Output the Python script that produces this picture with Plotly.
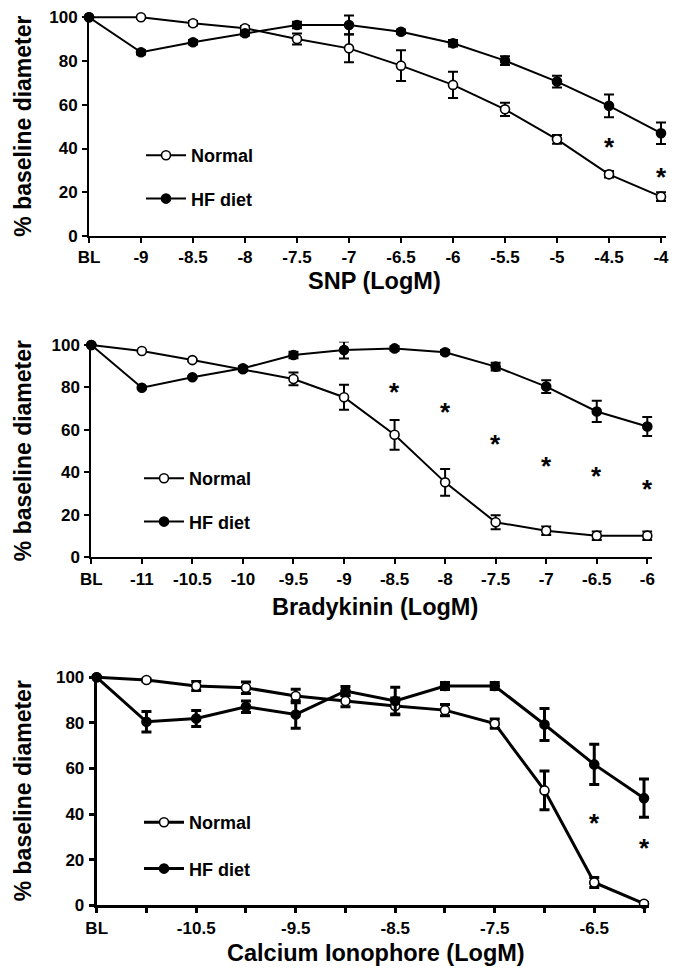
import plotly.graph_objects as go

W, H = 678, 969
FONT = "Liberation Sans, Arial, Helvetica, sans-serif"

# ---------------- data ----------------
snp_labels = ["BL", "-9", "-8.5", "-8", "-7.5", "-7", "-6.5", "-6", "-5.5", "-5", "-4.5", "-4"]
snp_ticktext = snp_labels
snp_normal = [100, 100, 97.3, 95.0, 90.1, 85.8, 77.9, 69.1, 57.9, 44.2, 28.2, 18.0]
snp_normal_err = [0, 0.5, 1.0, 1.0, 2.5, 6.3, 7.0, 6.0, 3.0, 2.0, 1.5, 2.0]
snp_hf = [100, 84.0, 88.6, 92.7, 96.5, 96.5, 93.4, 88.1, 80.2, 70.6, 59.5, 47.0]
snp_hf_err = [0, 1.0, 1.0, 1.0, 1.5, 4.3, 1.0, 1.5, 2.0, 2.7, 5.2, 4.9]
snp_star_x = ["-4.5", "-4"]
snp_star_y = [43.1, 29.4]

bk_labels = ["BL", "-11", "-10.5", "-10", "-9.5", "-9", "-8.5", "-8", "-7.5", "-7", "-6.5", "-6"]
bk_ticktext = bk_labels
bk_normal = [100, 97.2, 92.9, 88.6, 84.0, 75.4, 57.7, 35.3, 16.5, 12.5, 10.2, 10.2]
bk_normal_err = [0, 0.5, 0.5, 1.0, 3.0, 5.9, 7.0, 6.3, 3.3, 2.0, 2.0, 2.0]
bk_hf = [100, 79.9, 84.8, 89.0, 95.3, 97.6, 98.4, 96.6, 89.8, 80.4, 68.7, 61.6]
bk_hf_err = [0, 0.5, 0.5, 1.0, 1.5, 4.0, 1.0, 1.0, 1.8, 3.0, 5.0, 4.5]
bk_star_x = ["-8.5", "-8", "-7.5", "-7", "-6.5", "-6"]
bk_star_y = [80.1, 70.7, 55.6, 45.5, 40.8, 34.5]

ci_labels = ["BL", "-11", "-10.5", "-10", "-9.5", "-9", "-8.5", "-8", "-7.5", "-7", "-6.5", "-6"]
ci_ticktext = ["BL", "", "-10.5", "", "-9.5", "", "-8.5", "", "-7.5", "", "-6.5", ""]
ci_normal = [100, 98.8, 96.2, 95.4, 91.8, 89.6, 87.4, 85.6, 79.7, 50.4, 10.0, 0.7]
ci_normal_err = [0, 0.5, 2.0, 2.5, 3.0, 2.5, 3.5, 2.5, 2.0, 8.5, 2.2, 0.5]
ci_hf = [100, 80.5, 81.9, 87.1, 83.7, 94.0, 89.6, 96.2, 96.2, 79.3, 61.8, 47.0]
ci_hf_err = [0, 4.5, 3.5, 2.5, 6.0, 2.0, 6.0, 1.5, 1.5, 7.0, 8.8, 8.4]
ci_star_x = ["-6.5", "-6"]
ci_star_y = [38.2, 27.5]

y_ticks = [0, 20, 40, 60, 80, 100]
series_names = ["Normal", "HF diet"]

X_PAD = 0.1    # extra category room at the right so end error-bar caps are not clipped
Y_TOP = 101.5  # small headroom above 100 for error bars

# ---------------- layout geometry (pixels) ----------------
panels = [
    dict(labels=snp_labels, ticktext=snp_ticktext, normal=snp_normal, nerr=snp_normal_err,
         hf=snp_hf, herr=snp_hf_err, sx=snp_star_x, sy=snp_star_y, title="SNP (LogM)",
         x0=89, x1=661, ytop=17.3, ybot=236, lw=2, title_x=374, title_y=281,
         leg_x=141, leg_y=137, gap=17),
    dict(labels=bk_labels, ticktext=bk_ticktext, normal=bk_normal, nerr=bk_normal_err,
         hf=bk_hf, herr=bk_hf_err, sx=bk_star_x, sy=bk_star_y, title="Bradykinin (LogM)",
         x0=91.3, x1=647.3, ytop=345, ybot=557.3, lw=2, title_x=375, title_y=607,
         leg_x=139, leg_y=460, gap=17),
    dict(labels=ci_labels, ticktext=ci_ticktext, normal=ci_normal, nerr=ci_normal_err,
         hf=ci_hf, herr=ci_hf_err, sx=ci_star_x, sy=ci_star_y, title="Calcium Ionophore (LogM)",
         x0=96.7, x1=644, ytop=677.3, ybot=905.3, lw=3, title_x=376, title_y=953,
         leg_x=139, leg_y=804, gap=20),
]

fig = go.Figure()
layout = dict(
    width=W, height=H, margin=dict(l=0, r=0, t=0, b=0, autoexpand=False),
    paper_bgcolor="white", plot_bgcolor="white",
    font=dict(family=FONT, color="black", size=16, weight="bold"),
    annotations=[],
)

for i, p in enumerate(panels):
    n = i + 1
    xa = "x" if n == 1 else f"x{n}"
    ya = "y" if n == 1 else f"y{n}"
    leg = "legend" if n == 1 else f"legend{n}"
    idx = list(range(len(p["labels"])))
    lw = p["lw"]
    for name, vals, errs, fill in [(series_names[0], p["normal"], p["nerr"], "white"),
                                   (series_names[1], p["hf"], p["herr"], "black")]:
        fig.add_trace(go.Scatter(
            x=idx, y=vals, name=name, mode="lines+markers",
            xaxis=xa, yaxis=ya, legend=leg, legendgroup=f"{name}{n}",
            line=dict(color="black", width=lw),
            marker=dict(symbol="circle", size=9, color=fill, line=dict(color="black", width=1.6)),
            error_y=dict(type="data", array=errs, visible=True, color="black",
                         thickness=lw, width=5),
            cliponaxis=False,
        ))
    # significance asterisks
    for sx, sy in zip(p["sx"], p["sy"]):
        layout["annotations"].append(dict(
            x=p["labels"].index(sx), y=sy, xref=xa, yref=ya, text="*",
            showarrow=False, yanchor="middle", xanchor="center", yshift=-5,
            font=dict(size=26, family=FONT, color="black", weight="bold")))
    # x axis title
    layout["annotations"].append(dict(
        x=p["title_x"] / W, y=1 - p["title_y"] / H, xref="paper", yref="paper",
        text=p["title"], showarrow=False, xanchor="center", yanchor="middle",
        font=dict(size=23.5, family=FONT, color="black", weight="bold")))
    # y axis title
    layout["annotations"].append(dict(
        x=23 / W, y=1 - (p["ytop"] + p["ybot"]) / 2 / H, xref="paper", yref="paper",
        text="% baseline diameter", showarrow=False, textangle=-90,
        xanchor="center", yanchor="middle",
        font=dict(size=23, family=FONT, color="black", weight="bold")))

    nmax = len(idx) - 1
    spacing = (p["x1"] - p["x0"]) / nmax
    x_end = p["x1"] + X_PAD * spacing
    ppu = (p["ybot"] - p["ytop"]) / 100.0
    y_top = p["ytop"] - (Y_TOP - 100) * ppu

    xkey = "xaxis" if n == 1 else f"xaxis{n}"
    ykey = "yaxis" if n == 1 else f"yaxis{n}"
    layout[xkey] = dict(
        domain=[p["x0"] / W, x_end / W], anchor=ya, range=[0, nmax + X_PAD],
        tickvals=idx, ticktext=p["ticktext"], showgrid=False, zeroline=False,
        showline=True, linecolor="black", linewidth=lw, ticks="outside",
        ticklen=5, tickwidth=lw, tickcolor="black", ticklabelstandoff=0,
        automargin=False,
        tickfont=dict(size=17, family=FONT, color="black", weight="bold"),
    )
    layout[ykey] = dict(
        domain=[1 - p["ybot"] / H, 1 - y_top / H], anchor=xa, range=[0, Y_TOP],
        tickvals=y_ticks, showgrid=False, zeroline=False,
        showline=True, linecolor="black", linewidth=lw, ticks="outside",
        ticklen=5, tickwidth=lw, tickcolor="black", ticklabelstandoff=1,
        automargin=False,
        tickfont=dict(size=17, family=FONT, color="black", weight="bold"),
    )
    layout[leg] = dict(
        x=p["leg_x"] / W, y=1 - p["leg_y"] / H, xanchor="left", yanchor="top",
        bgcolor="rgba(0,0,0,0)", borderwidth=0, tracegroupgap=p["gap"],
        itemwidth=40,
        font=dict(size=18, family=FONT, color="black", weight="bold"),
    )

fig.update_layout(**layout)
fig.write_html(
    "out.html",
    config={"displayModeBar": False},
    post_script="document.body.style.margin='0';document.body.style.overflow='hidden';",
)
